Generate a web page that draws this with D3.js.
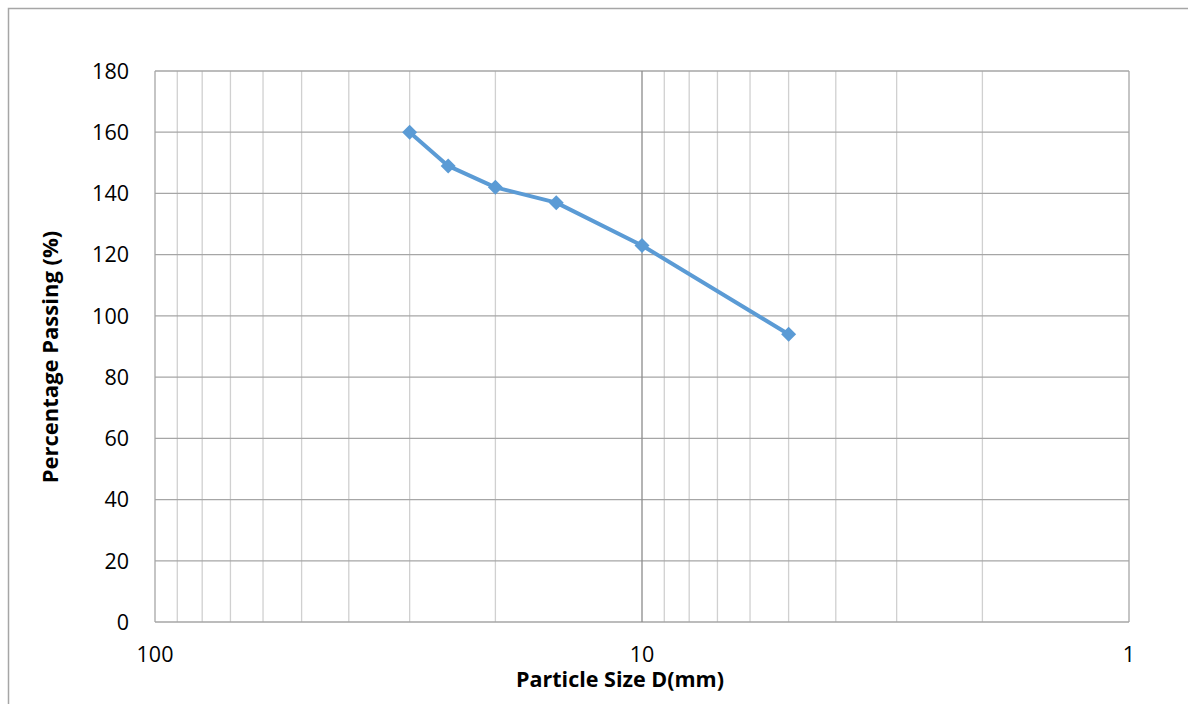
<!DOCTYPE html>
<html><head><meta charset="utf-8">
<script src="https://cdn.jsdelivr.net/npm/d3@7/dist/d3.min.js"></script>
<style>body{margin:0;background:#fff}svg{display:block;font-family:"Open Sans","Noto Sans",sans-serif}</style>
</head><body>
<svg id="c" width="1188" height="704"></svg>
<script>
const sizes = [30, 25, 20, 15, 10, 5];
const passing = [160, 149, 142, 137, 123, 94];
const yTicks = [0, 20, 40, 60, 80, 100, 120, 140, 160, 180];
const xMajorTicks = [100, 10, 1];
const xMinorTicks = [90, 80, 70, 60, 50, 40, 30, 20, 9, 8, 7, 6, 5, 4, 3, 2];

const svg = d3.select("#c");
const L = 155, R = 1129, T = 71, B = 622;
svg.append("rect").attr("x", 8.5).attr("y", 8.5).attr("width", 1200).attr("height", 720)
  .attr("fill", "#fff").attr("stroke", "#a6a6a6").attr("stroke-width", 1.5);

const x = d3.scaleLog().domain([100, 1]).range([L, R]);
const y = d3.scaleLinear().domain([0, 180]).range([B, T]);

const g = svg.append("g");
g.selectAll(".vmin").data(xMinorTicks).join("line")
  .attr("x1", d => x(d)).attr("x2", d => x(d)).attr("y1", T).attr("y2", B)
  .attr("stroke", "#d0d0d0").attr("stroke-width", 1.3);
g.selectAll(".h").data(yTicks).join("line")
  .attr("x1", L).attr("x2", R).attr("y1", d => y(d)).attr("y2", d => y(d))
  .attr("stroke", "#a6a6a6").attr("stroke-width", 1.3);
g.selectAll(".vmaj").data(xMajorTicks).join("line")
  .attr("x1", d => x(d)).attr("x2", d => x(d)).attr("y1", T).attr("y2", B)
  .attr("stroke", d => (d === 10 ? "#8c8c8c" : "#a6a6a6")).attr("stroke-width", 1.3);

g.selectAll(".yl").data(yTicks).join("text")
  .attr("x", 129).attr("y", d => y(d)).attr("dy", "0.36em")
  .attr("text-anchor", "end").attr("font-size", 21.5).attr("fill", "#000").text(d => d);
g.selectAll(".xl").data(xMajorTicks).join("text")
  .attr("x", d => x(d)).attr("y", 662)
  .attr("text-anchor", "middle").attr("font-size", 21.5).attr("fill", "#000").text(d => d);

svg.append("text").attr("x", 620).attr("y", 687).attr("text-anchor", "middle")
  .attr("font-size", 21.5).attr("font-weight", "bold").text("Particle Size D(mm)");
svg.append("text").attr("transform", "translate(58,357) rotate(-90)").attr("text-anchor", "middle")
  .attr("font-size", 22).attr("font-weight", "bold").text("Percentage Passing (%)");

const data = sizes.map((s, i) => ({ s, p: passing[i] }));
svg.append("path").datum(data)
  .attr("d", d3.line().x(d => x(d.s)).y(d => y(d.p)))
  .attr("fill", "none").attr("stroke", "#5b9bd5").attr("stroke-width", 4).attr("stroke-linejoin", "round");
svg.selectAll(".m").data(data).join("path")
  .attr("transform", d => `translate(${x(d.s)},${y(d.p)})`)
  .attr("d", "M0,-7.5L7.5,0L0,7.5L-7.5,0Z").attr("fill", "#5b9bd5");
</script>
</body></html>
